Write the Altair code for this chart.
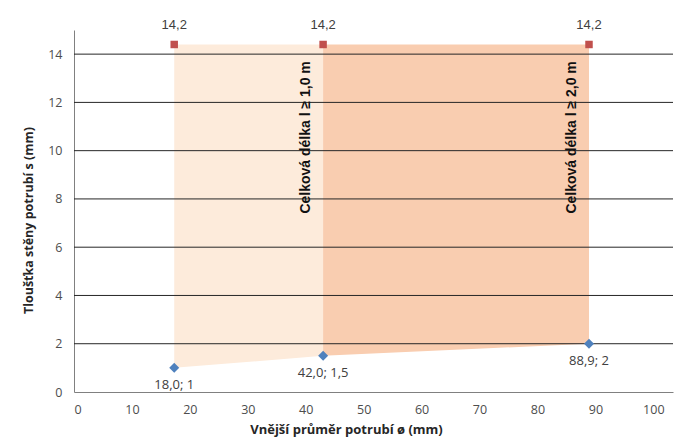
import altair as alt
import pandas as pd

# Data
pipe_x = [17.3, 43.0, 88.9]           # outer pipe diameter (plotted position)
wall_min = [1.0, 1.5, 2.0]            # min wall thickness
wall_max = [14.4, 14.4, 14.4]         # max wall thickness (plotted position)
min_labels = ["18,0; 1", "42,0; 1,5", "88,9; 2"]
max_labels = ["14,2", "14,2", "14,2"]

zone_names = ["Celková délka l ≥ 1,0 m", "Celková délka l ≥ 2,0 m"]
zone_colors = ["#FDEBDB", "#F9CDB0"]
zone_label_y = [10.55, 10.55]

x_ticks = [0, 10, 20, 30, 40, 50, 60, 70, 80, 90, 100]
y_ticks = [0, 2, 4, 6, 8, 10, 12, 14]
grid_y = [2, 4, 6, 8, 10, 12, 14]

# Build tables
zones = []
for i, name in enumerate(zone_names):
    for j in (i, i + 1):
        zones.append({"zone": name, "x": pipe_x[j], "lo": wall_min[j], "hi": wall_max[j]})
zones_df = pd.DataFrame(zones)

pts_df = pd.DataFrame({"x": pipe_x, "lo": wall_min, "hi": wall_max,
                       "lo_lab": min_labels, "hi_lab": max_labels})
zone_lab_df = pd.DataFrame({"x": pipe_x[1:], "y": zone_label_y, "t": zone_names})
grid_df = pd.DataFrame({"y": grid_y})

xscale = alt.Scale(domain=[0, 103.4], nice=False, zero=False)
yscale = alt.Scale(domain=[0, 15], nice=False)

xaxis = alt.Axis(values=x_ticks, title="Vnější průměr potrubí ø (mm)", grid=False,
                 ticks=False, labelPadding=11, titlePadding=8, titleX=272,
                 labelFont="Open Sans", labelFontSize=12.5, labelColor="#4D4D4D",
                 titleFont="Open Sans", titleFontSize=13, titleFontWeight="bold",
                 titleColor="#262626", domainColor="#808080")
yaxis = alt.Axis(values=y_ticks, title="Tloušťka stěny potrubí s (mm)", grid=False,
                 ticks=False, labelPadding=12, titlePadding=12, titleY=190,
                 labelFont="Open Sans", labelFontSize=12.5, labelColor="#4D4D4D",
                 titleFont="Open Sans", titleFontSize=12.5, titleFontWeight="bold",
                 titleColor="#262626", domainColor="#808080")

areas = alt.Chart(zones_df).mark_area(orient="vertical", opacity=1).encode(
    x=alt.X("x:Q", scale=xscale, axis=xaxis),
    y=alt.Y("lo:Q", scale=yscale, axis=yaxis),
    y2="hi:Q",
    color=alt.Color("zone:N", scale=alt.Scale(domain=zone_names, range=zone_colors), legend=None),
)

grid = alt.Chart(grid_df).mark_rule(color="#262626", strokeWidth=1).encode(
    y=alt.Y("y:Q", scale=yscale)
)

zone_text = alt.Chart(zone_lab_df).mark_text(
    angle=270, align="center", baseline="middle", dy=-17,
    font="Liberation Sans", fontSize=14, fontWeight="bold", color="#111111"
).encode(x=alt.X("x:Q", scale=xscale), y=alt.Y("y:Q", scale=yscale), text="t:N")

diamonds = alt.Chart(pts_df).mark_point(shape="diamond", size=100, filled=True,
                                        color="#4F81BD", opacity=1).encode(
    x=alt.X("x:Q", scale=xscale), y=alt.Y("lo:Q", scale=yscale))
squares = alt.Chart(pts_df).mark_point(shape="square", size=56, filled=True,
                                       color="#C0504D", opacity=1).encode(
    x=alt.X("x:Q", scale=xscale), y=alt.Y("hi:Q", scale=yscale))

lo_text = alt.Chart(pts_df).mark_text(dy=17, font="Open Sans", fontSize=13,
                                      color="#404040").encode(
    x=alt.X("x:Q", scale=xscale), y=alt.Y("lo:Q", scale=yscale), text="lo_lab:N")
hi_text = alt.Chart(pts_df).mark_text(dy=-19, font="Liberation Sans", fontSize=13,
                                      color="#404040").encode(
    x=alt.X("x:Q", scale=xscale), y=alt.Y("hi:Q", scale=yscale), text="hi_lab:N")

chart = alt.layer(areas, grid, zone_text, diamonds, squares, lo_text, hi_text).properties(
    width=599, height=362,
    background="white",
    autosize=alt.AutoSizeParams(type="none"),
    padding={"left": 66, "top": 22, "right": 1, "bottom": 52},
).configure_view(stroke=None)

chart.save("out.html", embed_options={"renderer": "svg", "actions": False})
